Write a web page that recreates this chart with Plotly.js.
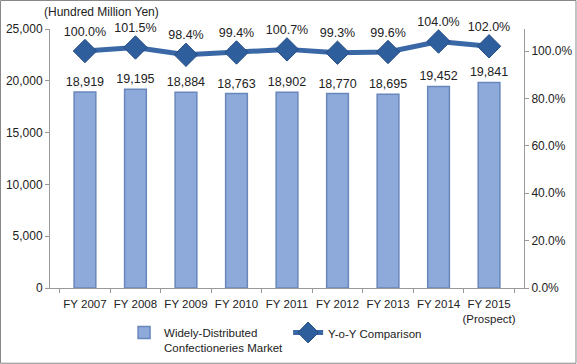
<!DOCTYPE html>
<html><head><meta charset="utf-8">
<script src="https://cdn.plot.ly/plotly-3.0.1.min.js"></script>
<style>html,body{margin:0;padding:0;background:#fff}#c{width:577px;height:364px}</style>
</head><body><div id="c"></div>
<script>
const categories = ["FY 2007","FY 2008","FY 2009","FY 2010","FY 2011","FY 2012","FY 2013","FY 2014","FY 2015<br>(Prospect)"];
const marketValues = [18919,19195,18884,18763,18902,18770,18695,19452,19841];
const yoyValues = [100.0,101.5,98.4,99.4,100.7,99.3,99.6,104.0,102.0];
const leftTicks = [0,5000,10000,15000,20000,25000];
const rightTicks = [0,20,40,60,80,100];

const font = {family:"Liberation Sans, Arial, sans-serif", size:12, color:"#222"};
const bar = {
  type:"bar", x:categories, y:marketValues, name:"Widely-Distributed<br>Confectioneries Market",
  marker:{color:"#8eaadb", line:{color:"#6a87bb", width:1.5}},
  width:0.43,
  text:marketValues.map(v=>v.toLocaleString("en-US")), textposition:"outside", constraintext:"none",
  textfont:{size:12.5,color:"#222"}, cliponaxis:false, hoverinfo:"none"
};
const line = {
  type:"scatter", mode:"lines+markers+text", x:categories, y:yoyValues, yaxis:"y2",
  name:"Y-o-Y Comparison",
  line:{color:"#3a68a6", width:5},
  marker:{symbol:"diamond", size:18, color:"#2f5e9c", line:{color:"#254d85", width:1}},
  text:yoyValues.map(v=>v.toFixed(1)+"%"), textposition:"top center",
  textfont:{size:12.5,color:"#222"}, cliponaxis:false, hoverinfo:"none"
};
const layout = {
  width:577, height:364, font:font,
  paper_bgcolor:"#fff", plot_bgcolor:"#fff",
  margin:{l:50, r:53, t:29, b:76, autoexpand:false},
  showlegend:true,
  legend:{orientation:"h", xref:"container", yref:"container", x:0.215, xanchor:"left", y:0.125, yanchor:"top",
          valign:"top", font:{size:11.5}, traceorder:"normal", itemwidth:30, tracegroupgap:0},
  xaxis:{type:"category", tickson:"boundaries", ticks:"outside", ticklen:4, tickcolor:"#999", tickangle:0,
         ticklabelstandoff:5,
         showline:true, linecolor:"#999", tickfont:{size:11.5}, fixedrange:true, automargin:false},
  yaxis:{range:[0,25000], tickvals:leftTicks, ticktext:leftTicks.map(v=>v.toLocaleString("en-US")),
         showgrid:false, showline:true, linecolor:"#999", ticks:"outside", ticklen:4, tickcolor:"#999",
         zeroline:false, tickfont:{size:12}, automargin:false},
  yaxis2:{overlaying:"y", side:"right", range:[0,109.3], tickvals:rightTicks,
          ticktext:rightTicks.map(v=>v.toFixed(1)+"%"), showgrid:false, showline:true, linecolor:"#999",
          ticks:"outside", ticklen:4, tickcolor:"#999", zeroline:false, tickfont:{size:12}, automargin:false},
  annotations:[{text:"(Hundred Million Yen)", xref:"paper", yref:"paper", x:-0.016, y:1.0, xanchor:"left", yanchor:"bottom", yshift:8, showarrow:false, font:{size:12}}],
  shapes:[{type:"rect", xref:"paper", yref:"paper", x0:-0.1044, x1:1.1097, y0:-0.2905, y1:1.1100, line:{color:"#888", width:1}}]
};
Plotly.newPlot("c",[bar,line],layout,{staticPlot:true});
</script></body></html>
